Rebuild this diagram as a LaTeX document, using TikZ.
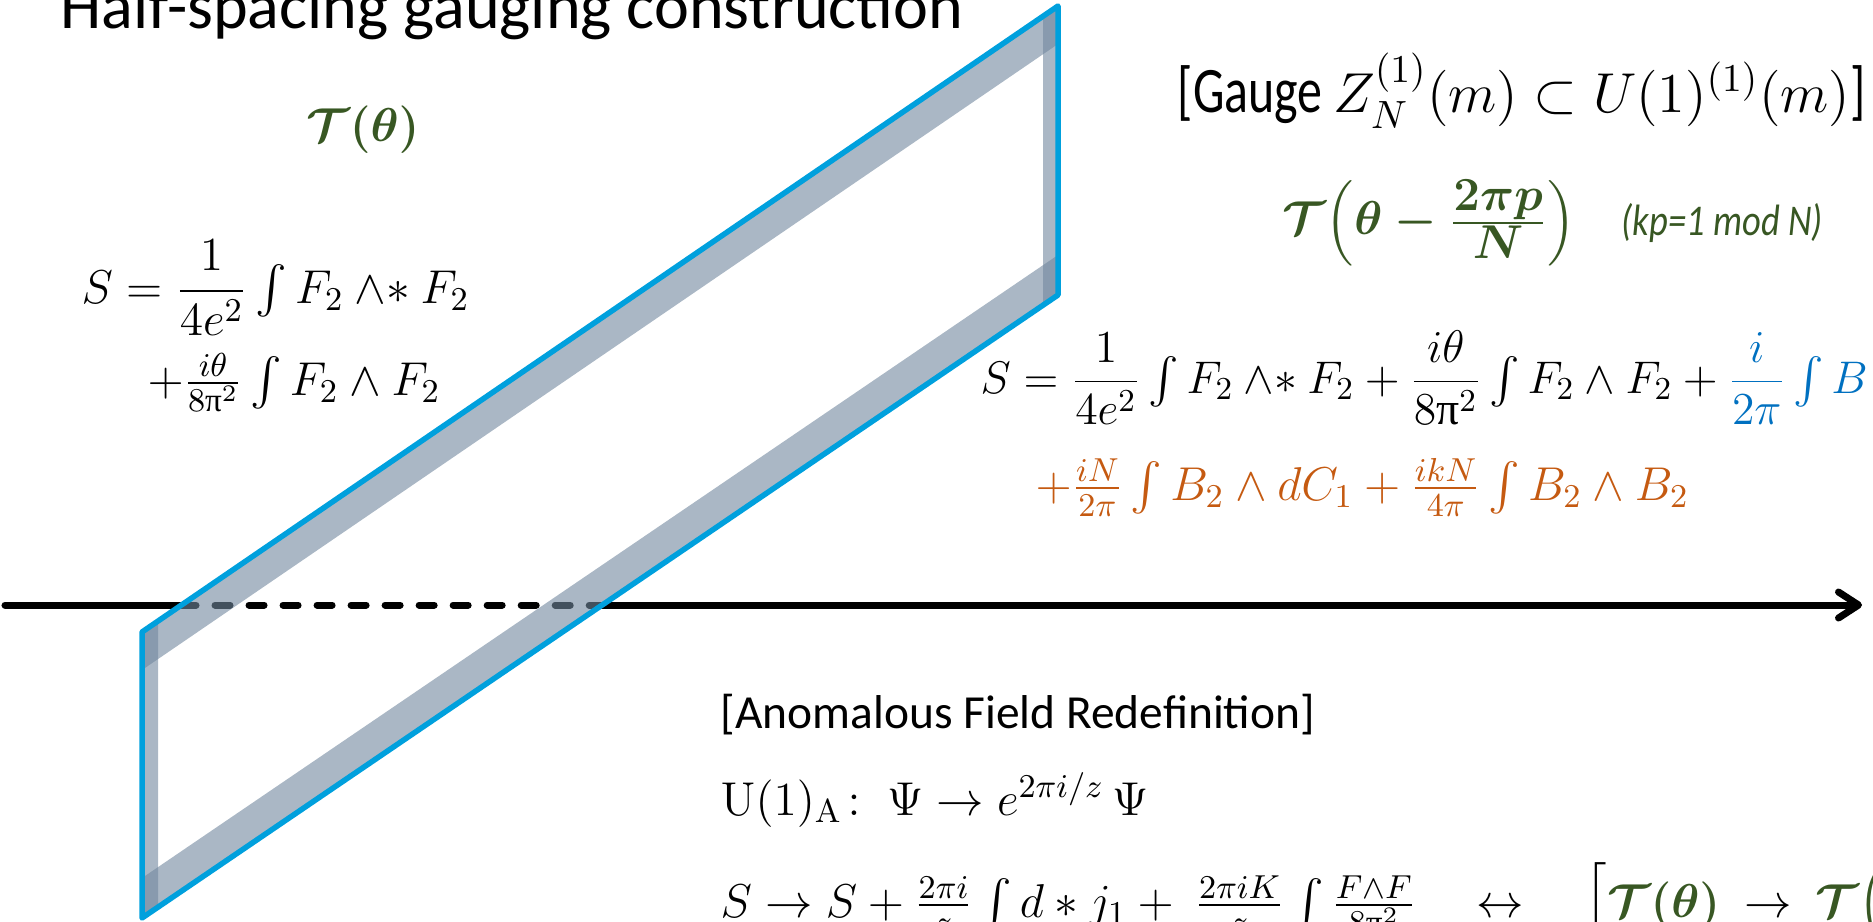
\RequirePackage{fix-cm}
\documentclass[tikz,border=0pt]{standalone}
\usepackage{amsmath, amssymb}
\usepackage{graphicx}
\usepackage[no-math]{fontspec}
\setmainfont{Carlito}
\newfontfamily\greekup{Liberation Serif}
\usetikzlibrary{arrows.meta, positioning}

\definecolor{sheetblue}{RGB}{0,160,221}
\definecolor{bandgrey}{RGB}{113,135,158}
\definecolor{thetagreen}{RGB}{56,87,35}
\definecolor{anomorange}{RGB}{197,90,17}
\definecolor{bfieldblue}{RGB}{0,112,192}

\newcommand\bodysize{\fontsize{13.5pt}{16pt}\selectfont}
\newcommand\titlesize{\fontsize{18.8pt}{22pt}\selectfont}
\newcommand\uppi{\text{\greekup π}}
\newcommand\wedgestar{\mathbin{\wedge{*}}}
\newcommand\tallword[1]{\scalebox{1}[1.3]{\fontsize{14.2pt}{17pt}\selectfont #1}}

\begin{document}
\begin{tikzpicture}[
    x=0.01cm, y=-0.01cm,
    sheet/.style={draw=sheetblue, line width=0.055cm, line join=round, line cap=round},
    band/.style={fill=bandgrey, fill opacity=0.6},
    axisline/.style={line width=0.07cm, line cap=round},
    hiddenpart/.style={axisline, dash pattern=on 0.15cm off 0.19cm},
    heading/.style={anchor=base west, inner sep=0pt, font=\titlesize},
    eqn/.style={anchor=base west, inner sep=0pt, font=\bodysize},
    defect/.style={inner sep=0pt, text=thetagreen, font=\bodysize\boldmath},
    kpnote/.style={inner sep=0pt, text=thetagreen, font=\fontsize{10.4pt}{12pt}\selectfont\itshape}
]
    \path[use as bounding box, clip] (0,0) rectangle (1873,921);

    % corners of the sheet
    \coordinate (tl) at (142,632);
    \coordinate (tr) at (1058,6);
    \coordinate (br) at (1058,295);
    \coordinate (bl) at (142,918);

    % the axis, hidden behind the sheet
    \coordinate (axisstart) at (5,605);
    \coordinate (enter) at (181,605);
    \coordinate (exit) at (604,605);
    \coordinate (axisend) at (1862,605);
    \draw[axisline] (axisstart) -- (enter);
    \draw[hiddenpart] (enter) -- (exit);
    \draw[axisline, -{Straight Barb[round, length=0.2cm, width=0.26cm]}] (exit) -- (axisend);

    % grey rim
    \fill[band] (tl) -- (tr) -- (1058,44) -- (142,670) -- cycle;
    \fill[band] (bl) -- (br) -- (1058,255) -- (142,878) -- cycle;
    \fill[band] (tl) -- (bl) -- (158,907) -- (158,621) -- cycle;
    \fill[band] (tr) -- (br) -- (1043,305) -- (1043,16) -- cycle;
    \draw[sheet] (tl) -- (tr) -- (br) -- (bl) -- cycle;

    \node[heading] (title) at (60,28) {Half-spacing gauging construction};

    \node[defect] (thetaL) at (363,130) {$\mathcal{T}(\theta)$};
    \node[eqn] (actionL1) at (81,303) {$S=\dfrac{1}{4e^2}\int F_2\wedgestar F_2$};
    \node[eqn] (actionL2) at (147,395) {$+\tfrac{i\theta}{8\uppi^2}\int F_2\wedge F_2$};

    \node[eqn] (gauge) at (1177,112) {\tallword{[Gauge} {\fontsize{16pt}{19pt}\selectfont$Z_N^{(1)}(m)\subset U(1)^{(1)}(m)$}\tallword{]}};
    \node[defect, anchor=west] (thetaR) at (1282,223) {$\mathcal{T}\Bigl(\theta-\frac{\textstyle 2\pi p}{\textstyle N}\Bigr)$};
    \node[kpnote, right=0.45cm of thetaR] (kp) {\scalebox{1}[1.2]{(kp=1 mod N)}};
    \node[eqn, font=\fontsize{13pt}{16pt}\selectfont] (actionR1) at (980,393) {$S=\dfrac{1}{4e^2}\int F_2\wedgestar F_2+\dfrac{i\theta}{8\uppi^2}\int F_2\wedge F_2+\textcolor{bfieldblue}{\dfrac{i}{2\pi}\int B}$};
    \node[eqn, text=anomorange] (actionR2) at (1035,500) {$+\tfrac{iN}{2\pi}\int B_2\wedge dC_1+\tfrac{ikN}{4\pi}\int B_2\wedge B_2$};

    \node[eqn] (anomalous) at (720,728) {[Anomalous Field Redefinition]};
    \node[eqn] (axialrot) at (720,815) {$\mathrm{U(1)_A}\colon\ \Psi\to e^{2\pi i/z}\,\Psi$};
    \node[eqn] (shift) at (720,917) {$S\to S+\tfrac{2\pi i}{z}\int d*j_1+\ \tfrac{2\pi iK}{z}\int\tfrac{F\wedge F}{8\uppi^2}\quad\leftrightarrow\quad\Bigl[\textcolor{thetagreen}{\boldsymbol{\mathcal{T}(\theta)}}\ \to\ \textcolor{thetagreen}{\boldsymbol{\mathcal{T}\Bigl(\theta+}}$};
\end{tikzpicture}
\end{document}
